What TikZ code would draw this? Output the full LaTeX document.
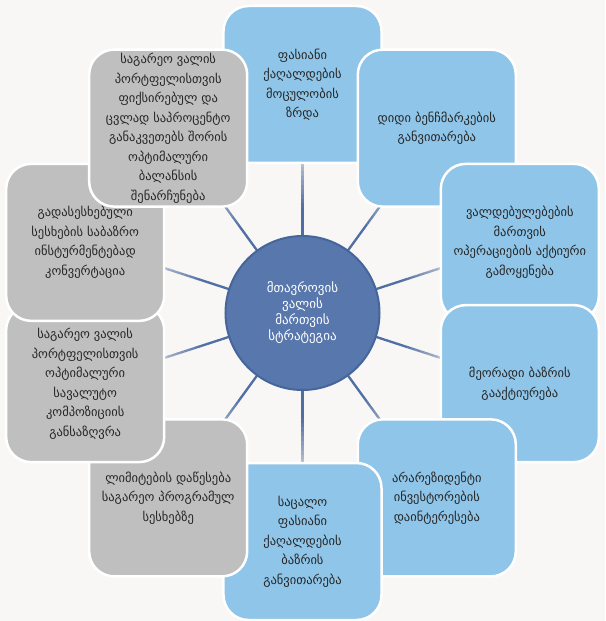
\documentclass[tikz,border=0pt]{standalone}
\usepackage{fontspec}
\setmainfont{DejaVu Sans}
\usepackage{xcolor}
\usetikzlibrary{calc}
\definecolor{paperColor}{HTML}{F8F7F5}
\definecolor{boxBlue}{HTML}{8FC5E8}
\definecolor{boxGray}{HTML}{BFBFBF}
\definecolor{boxText}{HTML}{262626}
\definecolor{hubBlue}{HTML}{5877AC}
\definecolor{hubEdge}{HTML}{46659A}
\definecolor{spokeBlue}{HTML}{4F6EA3}
\definecolor{spokeGray}{HTML}{D2D6DD}
\pgfdeclarelayer{paper}
\pgfdeclarelayer{spokes}
\pgfsetlayers{paper,spokes,main}
\tikzstyle{goalBox}=[draw=white, line width=2.5pt, rounded corners=25pt, minimum width=158pt, minimum height=157pt, inner sep=2pt, align=center, text=boxText, font=\fontsize{12.5}{19.5}\selectfont]
\tikzstyle{blueBox}=[goalBox, fill=boxBlue]
\tikzstyle{grayBox}=[goalBox, fill=boxGray]
\tikzstyle{hubNode}=[draw=hubEdge, fill=hubBlue, circle, line width=2pt, minimum size=154pt, inner sep=0pt, align=center, text=white, font=\fontsize{13}{16}\selectfont]
\tikzstyle{spokeLine}=[line width=2.3pt]

\begin{document}
\begin{tikzpicture}[x=1pt, y=1pt]
  \useasboundingbox (-302.5,-308) rectangle (302.5,313);
  \begin{pgfonlayer}{paper}
    \fill[paperColor] (-302.5,-308) rectangle (302.5,313);
  \end{pgfonlayer}

  % ring of boxes, clockwise from the top
  \node[blueBox] (b1) at (90:228.5) {ფასიანი\\ქაღალდების\\მოცულობის\\ზრდა};
  \node[blueBox] (b2) at (54:228.5) {დიდი ბენჩმარკების\\განვითარება};
  \node[blueBox] (b3) at (18:228.5) {ვალდებულებების\\მართვის\\ოპერაციების აქტიური\\გამოყენება};
  \node[blueBox] (b4) at (-18:228.5) {მეორადი ბაზრის\\გააქტიურება};
  \node[blueBox] (b5) at (-54:228.5) {არარეზიდენტი\\ინვესტორების\\დაინტერესება};
  \node[blueBox] (b6) at (-90:228.5) {საცალო\\ფასიანი\\ქაღალდების\\ბაზრის\\განვითარება};
  \node[grayBox] (b7) at (-126:228.5) {ლიმიტების დაწესება\\საგარეო პროგრამულ\\სესხებზე};
  \node[grayBox] (b8) at (-162:228.5) {საგარეო ვალის\\პორტფელისთვის\\ოპტიმალური\\სავალუტო\\კომპოზიციის\\განსაზღვრა};
  \node[grayBox] (b9) at (162:228.5) {გადასესხებული\\სესხების საბაზრო\\ინსტურმენტებად\\კონვერტაცია};
  \node[grayBox] (b10) at (126:228.5) {საგარეო ვალის\\პორტფელისთვის\\ფიქსირებულ და\\ცვლად საპროცენტო\\განაკვეთებს შორის\\ოპტიმალური\\ბალანსის\\შენარჩუნება};

  % centre
  \node[hubNode] (hub) at (0,0) {მთავროვის\\ვალის\\მართვის\\სტრატეგია};

  % spokes fade out towards the boxes
  \begin{pgfonlayer}{spokes}
    \foreach \i in {1,...,10}
      \foreach \t in {0.30,0.32,...,0.74} {
        \pgfmathsetmacro\mix{max(8,min(100,100*(0.70-\t)/0.25))}
        \draw[spokeLine, spokeBlue!\mix!spokeGray] ($(hub)!\t!(b\i)$) -- ($(hub)!\t+0.021!(b\i)$);
      }
  \end{pgfonlayer}
\end{tikzpicture}
\end{document}
